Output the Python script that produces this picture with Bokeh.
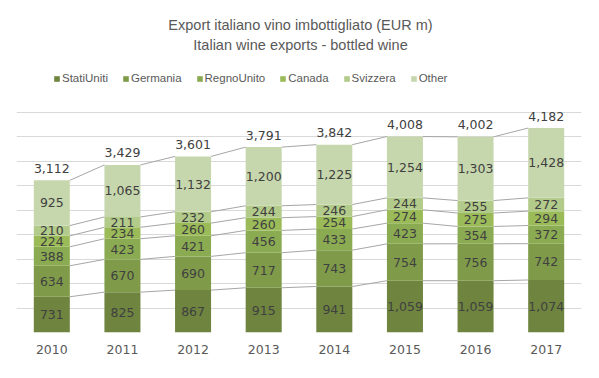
from bokeh.plotting import figure
from bokeh.models import (ColumnDataSource, Range1d, FixedTicker, Legend, LegendItem, Label)
from bokeh.core.properties import value
from bokeh.embed import file_html
from bokeh.resources import INLINE

years = ["2010", "2011", "2012", "2013", "2014", "2015", "2016", "2017"]
stati_uniti = [731, 825, 867, 915, 941, 1059, 1059, 1074]
germania = [634, 670, 690, 717, 743, 754, 756, 742]
regno_unito = [388, 423, 421, 456, 433, 423, 354, 372]
canada = [224, 234, 260, 260, 254, 274, 275, 294]
svizzera = [210, 211, 232, 244, 246, 244, 255, 272]
other = [925, 1065, 1132, 1200, 1225, 1254, 1303, 1428]
totals = [3112, 3429, 3601, 3791, 3842, 4008, 4002, 4182]
grid_ticks = [0, 500, 1000, 1500, 2000, 2500, 3000, 3500, 4000, 4500]

series_names = ["StatiUniti", "Germania", "RegnoUnito", "Canada", "Svizzera", "Other"]
series_vals = [stati_uniti, germania, regno_unito, canada, svizzera, other]
colors = ["#6e843f", "#7f9b4a", "#8bab52", "#9bbb59", "#b3cb8a", "#c7d7ad"]

LABEL_FONT = "DejaVu Sans"
TITLE_FONT = "Liberation Sans"
BAR_W = 0.51

# frame spans from the top of the figure to the x axis; grid limited to 0..4500
p = figure(width=599, height=378, output_backend="svg", toolbar_location=None,
           x_range=Range1d(-0.5, 7.5), y_range=Range1d(0, 4500 * 332 / 220),
           min_border_left=16, min_border_right=18, min_border_top=0, min_border_bottom=46)
p.outline_line_color = None
p.yaxis.visible = False
p.xgrid.visible = False
p.ygrid.ticker = FixedTicker(ticks=grid_ticks)
p.ygrid.grid_line_color = "#d9d9d9"
p.ygrid.grid_line_width = 1

xs = list(range(len(years)))
data = {"x": xs}
for n, v in zip(series_names, series_vals):
    data[n] = v
src = ColumnDataSource(data)
renderers = p.vbar_stack(series_names, x="x", width=BAR_W, color=colors, line_color=None, source=src)

# series lines and segment labels
lx, ly, lt = [], [], []
x0s, y0s, x1s, y1s = [], [], [], []
cum = [0] * len(years)
for v in series_vals:
    bottoms = cum[:]
    cum = [c + a for c, a in zip(cum, v)]
    for i in range(len(years)):
        lx.append(xs[i])
        ly.append(bottoms[i] + v[i] / 2)
        lt.append(f"{v[i]:,}")
    for i in range(len(years) - 1):
        x0s.append(xs[i] + BAR_W / 2)
        y0s.append(cum[i])
        x1s.append(xs[i + 1] - BAR_W / 2)
        y1s.append(cum[i + 1])

p.segment(x0=x0s, y0=y0s, x1=x1s, y1=y1s, line_color="#a6a6a6", line_width=1)

p.text(x=lx, y=ly, text=lt, text_font=value(LABEL_FONT), text_font_size="12.5px",
       text_color="#404040", text_align="center", text_baseline="middle")

p.text(x=xs, y=cum, text=[f"{t:,}" for t in totals], text_font=value(LABEL_FONT),
       text_font_size="12.5px", text_color="#404040", text_align="center",
       text_baseline="alphabetic", y_offset=-12)

# x axis
p.xaxis.ticker = FixedTicker(ticks=xs)
p.xaxis.major_label_overrides = {i: y for i, y in zip(xs, years)}
p.xaxis.axis_line_color = None
p.xaxis.major_tick_line_color = None
p.xaxis.minor_tick_line_color = None
p.xaxis.major_label_text_font = LABEL_FONT
p.xaxis.major_label_text_font_size = "12.5px"
p.xaxis.major_label_text_color = "#595959"
p.xaxis.major_label_standoff = 6

# legend
items = [LegendItem(label=n, renderers=[r]) for n, r in zip(series_names, renderers)]
legend = Legend(items=items, orientation="horizontal", location=(37, 248),
                glyph_width=7, glyph_height=7, label_standoff=2, spacing=14,
                padding=0, margin=0, border_line_color=None, background_fill_alpha=0,
                label_text_font=TITLE_FONT, label_text_font_size="11.5px", label_text_color="#595959")
p.add_layout(legend, "center")

# titles
for txt, yy in [("Export italiano vino imbottigliato (EUR m)", 308),
                ("Italian wine exports - bottled wine", 287.5)]:
    p.add_layout(Label(x=284, y=yy, x_units="screen", y_units="screen", text=txt,
                       text_font=TITLE_FONT, text_font_size="14.5px", text_color="#595959",
                       text_align="center", text_baseline="alphabetic"))

open("out.html", "w").write(file_html(p, INLINE))
